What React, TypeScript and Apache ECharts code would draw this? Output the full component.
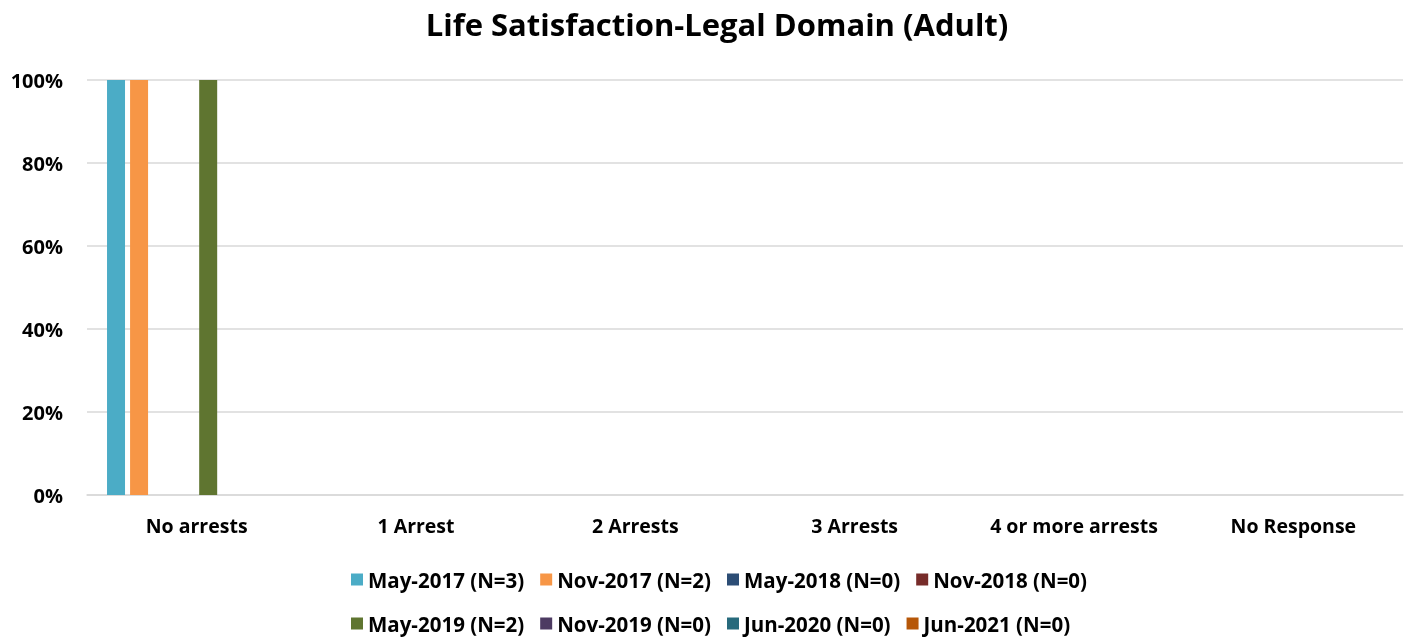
import React, { useEffect, useRef } from "react";
import * as echarts from "echarts";

const categories = ["No arrests", "1 Arrest", "2 Arrests", "3 Arrests", "4 or more arrests", "No Response"];
const seriesNames = [
  "May-2017 (N=3)",
  "Nov-2017 (N=2)",
  "May-2018 (N=0)",
  "Nov-2018 (N=0)",
  "May-2019 (N=2)",
  "Nov-2019 (N=0)",
  "Jun-2020 (N=0)",
  "Jun-2021 (N=0)",
];
const may2017 = [100, 0, 0, 0, 0, 0];
const nov2017 = [100, 0, 0, 0, 0, 0];
const may2018 = [0, 0, 0, 0, 0, 0];
const nov2018 = [0, 0, 0, 0, 0, 0];
const may2019 = [100, 0, 0, 0, 0, 0];
const nov2019 = [0, 0, 0, 0, 0, 0];
const jun2020 = [0, 0, 0, 0, 0, 0];
const jun2021 = [0, 0, 0, 0, 0, 0];
const seriesValues = [may2017, nov2017, may2018, nov2018, may2019, nov2019, jun2020, jun2021];
const colors = ["#4BACC6", "#F79646", "#2C4D75", "#772C2A", "#5F7530", "#4D3B62", "#276A7C", "#B65708"];

const FONT = "Open Sans";

export default function App() {
  const ref = useRef<HTMLDivElement>(null);
  useEffect(() => {
    if (!ref.current) return;
    const chart = echarts.init(ref.current, undefined, { renderer: "svg" });
    const legendText = { fontFamily: FONT, fontWeight: "bold", fontSize: 20.5, color: "#000" };
    chart.setOption({
      animation: false,
      color: colors,
      title: {
        text: "Life Satisfaction-Legal Domain (Adult)",
        left: 712,
        textAlign: "center",
        top: 3,
        textStyle: { fontFamily: FONT, fontWeight: "bold", fontSize: 31, color: "#000" },
      },
      legend: [
        {
          data: seriesNames.slice(0, 4),
          left: 346,
          top: 564,
          itemWidth: 12,
          itemHeight: 12,
          itemGap: 16,
          icon: "rect",
          textStyle: legendText,
        },
        {
          data: seriesNames.slice(4),
          left: 346,
          top: 608,
          itemWidth: 12,
          itemHeight: 12,
          itemGap: 16,
          icon: "rect",
          textStyle: legendText,
        },
      ],
      grid: { left: 87, right: 9, top: 80, bottom: 144, containLabel: false },
      xAxis: {
        type: "category",
        data: categories,
        axisLine: { show: true, lineStyle: { color: "#D9D9D9", width: 1.5 } },
        axisTick: { show: false },
        axisLabel: { fontFamily: FONT, fontWeight: "bold", fontSize: 19.5, color: "#000", margin: 20 },
      },
      yAxis: {
        type: "value",
        min: 0,
        max: 100,
        interval: 20,
        axisLine: { show: false },
        axisTick: { show: false },
        axisLabel: {
          fontFamily: FONT,
          fontWeight: "bold",
          fontSize: 20,
          color: "#000",
          margin: 24,
          formatter: (v: number) => v + "%",
        },
        splitLine: { lineStyle: { color: "#D9D9D9", width: 1.5 } },
      },
      series: seriesNames.map((name, i) => ({
        name,
        type: "bar",
        data: seriesValues[i],
        barWidth: 18,
        barGap: "28%",
        itemStyle: { color: colors[i] },
      })),
    });
    return () => chart.dispose();
  }, []);
  return <div ref={ref} style={{ position: "fixed", left: 0, top: 0, width: 1412, height: 639 }} />;
}
